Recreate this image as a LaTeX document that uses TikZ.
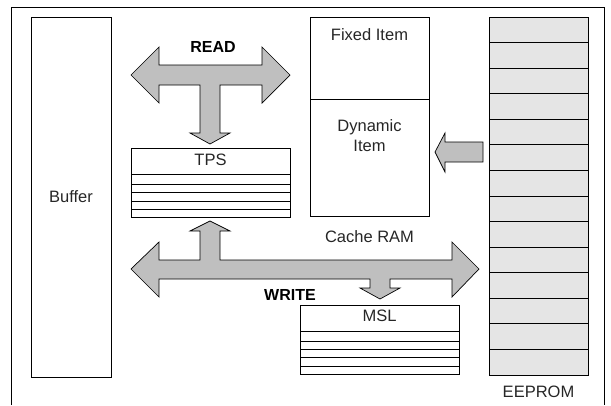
\documentclass[tikz,border=0pt]{standalone}
\usepackage{fontspec}
\setmainfont{Liberation Sans}
\begin{document}
\begin{tikzpicture}[x=1pt,y=-1pt,
  box/.style={draw=black,line width=0.8pt,inner sep=0pt,anchor=north west},
  lbl/.style={inner sep=0pt,font=\fontsize{16.5}{20}\selectfont,text=black!85},
  boldlbl/.style={inner sep=0pt,font=\fontsize{16}{20}\selectfont\bfseries,text=black},
  fatarrow/.style={draw=black,line width=0.7pt,fill=black!25,line join=miter},
  rowline/.style={draw=black,line width=0.8pt}]
\useasboundingbox (0,0) rectangle (611,405);
% frame
\draw[line width=0.8pt] (11,405) -- (11,7) -- (604,7) -- (604,405);
% Buffer
\node[box,minimum width=80pt,minimum height=360pt] (buffer) at (31,17) {};
\node[lbl] (bufferlbl) at (71,197) {Buffer};
% Cache RAM
\node[box,minimum width=119pt,minimum height=199pt] (cache) at (310,17) {};
\draw[rowline] (310,99) -- (429,99);
\node[lbl] (fixed) at (369.5,35) {Fixed Item};
\node[lbl,align=center] (dyn) at (369.5,136) {Dynamic\\Item};
\node[lbl] (cachelbl) at (369.5,237) {Cache RAM};
% TPS
\node[box,minimum width=159pt,minimum height=69pt] (tps) at (131,148) {};
\node[lbl] (tpslbl) at (210.5,160) {TPS};
\foreach \y in {174,184,192.5,201,209} \draw[rowline] (131,\y) -- (290,\y);
% MSL
\node[box,minimum width=159pt,minimum height=69pt] (msl) at (300,305) {};
\node[lbl] (msllbl) at (379.5,316) {MSL};
\foreach \y in {331,341,349,357,366} \draw[rowline] (300,\y) -- (459,\y);
% EEPROM
\node[box,fill=black!10,minimum width=99pt,minimum height=358pt] (eeprom) at (489,17) {};
\foreach \k in {1,...,13} \draw[rowline] (489,17+25.571*\k) -- (588,17+25.571*\k);
\node[lbl] (eepromlbl) at (538.5,392) {EEPROM};
% READ arrow
\draw[fatarrow] (131,75) -- (159,47) -- (159,65) -- (262,65) -- (262,47) -- (290,75)
  -- (262,103) -- (262,85) -- (220,85) -- (220,133) -- (230,133) -- (210,144)
  -- (190,133) -- (200,133) -- (200,85) -- (159,85) -- (159,103) -- cycle;
\node[boldlbl] (read) at (213,47) {READ};
% WRITE arrow
\draw[fatarrow] (131,269) -- (159,242) -- (159,260) -- (200,260) -- (200,231)
  -- (190,231) -- (210,221) -- (230,231) -- (220,231) -- (220,260) -- (452,260)
  -- (452,242) -- (479,269) -- (452,297) -- (452,279) -- (390,279) -- (390,288)
  -- (400,288) -- (380,299) -- (360,288) -- (370,288) -- (370,279) -- (159,279)
  -- (159,297) -- cycle;
\node[boldlbl] (write) at (290,295) {WRITE};
% EEPROM -> Dynamic item arrow
\draw[fatarrow] (435,152) -- (445,133) -- (445,142) -- (483,142) -- (483,162)
  -- (445,162) -- (445,172) -- cycle;
\end{tikzpicture}
\end{document}
